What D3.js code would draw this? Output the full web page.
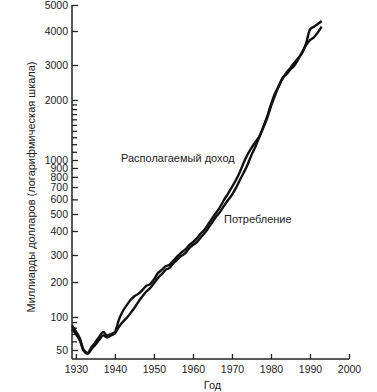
<!DOCTYPE html>
<html>
<head>
<meta charset="utf-8">
<script src="https://cdn.jsdelivr.net/npm/d3@7"></script>
<style>
  body { margin: 0; background: #fff; }
  text { font-family: "Liberation Sans", Arial, sans-serif; fill: #222; }
</style>
</head>
<body>
<div id="chart"></div>
<script>
// Data (billions of dollars, nominal)
const years = [
  1929, 1930, 1931, 1932, 1933, 1934, 1935, 1936, 1937, 1938,
  1939, 1940, 1941, 1942, 1943, 1944, 1945, 1946, 1947, 1948,
  1949, 1950, 1951, 1952, 1953, 1954, 1955, 1956, 1957, 1958,
  1959, 1960, 1961, 1962, 1963, 1964, 1965, 1966, 1967, 1968,
  1969, 1970, 1971, 1972, 1973, 1974, 1975, 1976, 1977, 1978,
  1979, 1980, 1981, 1982, 1983, 1984, 1985, 1986, 1987, 1988,
  1989, 1990, 1991, 1992, 1993
];
const disposableIncome = [
  84, 74, 64, 50, 47, 53, 59, 66, 73, 68,
  70, 73, 94, 112, 126, 140, 151, 158, 170, 185,
  192, 208, 228, 240, 253, 259, 276, 294, 309, 320,
  337, 350, 366, 388, 408, 440, 475, 510, 548, 598,
  645, 700, 765, 850, 965, 1065, 1150, 1230, 1310, 1460,
  1650, 1900, 2150, 2350, 2560, 2750, 2900, 3060, 3180, 3320,
  3600, 4050, 4150, 4250, 4360
];
const consumption = [
  77, 70, 61, 49, 46, 51, 56, 62, 68, 65,
  68, 71, 81, 90, 98, 108, 120, 135, 150, 165,
  177, 195, 212, 225, 240, 247, 265, 280, 296, 306,
  325, 338, 350, 370, 390, 418, 450, 485, 515, 555,
  595, 635, 690, 765, 845, 940, 1060, 1165, 1300, 1450,
  1620, 1860, 2100, 2350, 2590, 2700, 2850, 2980, 3150, 3350,
  3550, 3700, 3790, 3950, 4150
];
const yLabelTicks = [50, 100, 200, 300, 400, 500, 600, 700, 800, 900, 1000, 2000, 3000, 4000, 5000];
const yMinorTicks = [60, 70, 80, 90, 1100, 1200, 1300, 1400, 1500, 1600, 1700, 1800, 1900];
const xTicks = [1930, 1940, 1950, 1960, 1970, 1980, 1990, 2000];

// Constants
const WIDTH = 377;
const HEIGHT = 392;
const AXIS_LEFT = 72;
const AXIS_RIGHT = 349;
const AXIS_BOTTOM = 359;

const svg = d3.select('#chart')
  .append('svg')
  .attr('width', WIDTH)
  .attr('height', HEIGHT);

// Scales
const x = d3.scaleLinear()
  .domain([1929, 2000])
  .range([AXIS_LEFT, AXIS_RIGHT]);

// the printed log axis is not evenly spaced, so the scale is piecewise log
// calibrated on the labelled ticks
const y = d3.scaleLog()
  .domain([50, 100, 200, 300, 400, 500, 700, 1000, 2000, 3000, 4000, 5000])
  .range([350, 317, 282, 255, 231, 214, 187, 160, 100, 65, 31, 5]);

// Axes
svg.append('g')
  .attr('transform', `translate(${AXIS_LEFT},0)`)
  .call(d3.axisLeft(y)
    .tickValues(yLabelTicks)
    .tickFormat(d3.format('d'))
    .tickSizeInner(-6)
    .tickSizeOuter(0)
    .tickPadding(4));

svg.append('g')
  .attr('transform', `translate(${AXIS_LEFT},0)`)
  .call(d3.axisLeft(y)
    .tickValues(yMinorTicks)
    .tickFormat('')
    .tickSizeInner(-5)
    .tickSizeOuter(0));

svg.append('g')
  .attr('transform', `translate(0,${AXIS_BOTTOM})`)
  .call(d3.axisBottom(x)
    .tickValues(xTicks)
    .tickFormat(d3.format('d'))
    .tickSizeInner(-5)
    .tickSizeOuter(0)
    .tickPadding(7));

svg.selectAll('.domain').remove();
svg.selectAll('.tick line').attr('stroke', '#222').attr('stroke-width', 1.3);
svg.selectAll('.tick text')
  .attr('font-size', 10.5)
  .attr('font-family', '"Liberation Sans", Arial, sans-serif')
  .attr('fill', '#222');

// Axis lines
svg.append('line')
  .attr('x1', AXIS_LEFT).attr('x2', AXIS_LEFT)
  .attr('y1', y(5000)).attr('y2', AXIS_BOTTOM)
  .attr('stroke', '#222').attr('stroke-width', 1.5);
svg.append('line')
  .attr('x1', AXIS_LEFT).attr('x2', AXIS_RIGHT)
  .attr('y1', AXIS_BOTTOM).attr('y2', AXIS_BOTTOM)
  .attr('stroke', '#222').attr('stroke-width', 1.5);

// Series lines
const line = d3.line()
  .x((d, i) => x(years[i]))
  .y(d => y(d))
  .curve(d3.curveMonotoneX);

[disposableIncome, consumption].forEach(series => {
  svg.append('path')
    .datum(series)
    .attr('fill', 'none')
    .attr('stroke', '#111')
    .attr('stroke-width', 2.4)
    .attr('stroke-linejoin', 'round')
    .attr('d', line);
});

// Labels
svg.append('text')
  .attr('x', 121)
  .attr('y', 162)
  .attr('font-size', 11)
  .text('Располагаемый доход');

svg.append('text')
  .attr('x', 224)
  .attr('y', 223)
  .attr('font-size', 11)
  .text('Потребление');

svg.append('text')
  .attr('x', (AXIS_LEFT + AXIS_RIGHT) / 2 + 2)
  .attr('y', 389)
  .attr('text-anchor', 'middle')
  .attr('font-size', 11)
  .text('Год');

svg.append('text')
  .attr('transform', 'rotate(-90)')
  .attr('x', -187)
  .attr('y', 35)
  .attr('text-anchor', 'middle')
  .attr('font-size', 11)
  .text('Миллиарды долларов (логарифмическая шкала)');
</script>
</body>
</html>
